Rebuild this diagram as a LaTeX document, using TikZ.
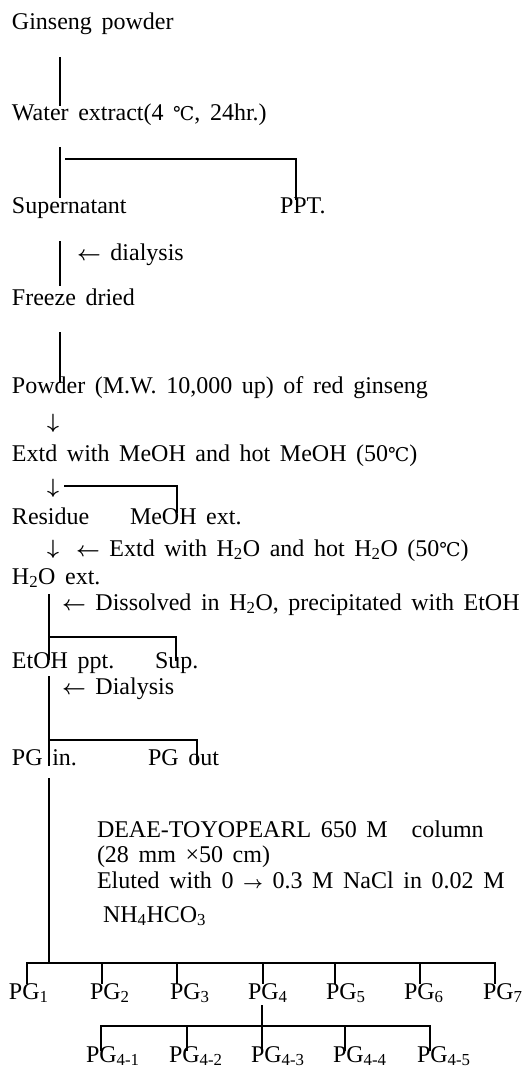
\documentclass[tikz,border=0pt]{standalone}
\usepackage{fontspec}
\setmainfont[WordSpace=1.6]{Liberation Serif}
\newfontfamily\symfont{DejaVu Serif}
\newcommand{\celsius}{{\symfont\fontsize{19}{22}\selectfont ℃}}
\newcommand{\larr}{{\fontsize{21}{22}\selectfont\boldmath$\leftarrow$}}
\newcommand{\rarr}{{\fontsize{19}{22}\selectfont\boldmath$\rightarrow$}}
\newcommand{\darr}{{\boldmath$\downarrow$}}
\tikzset{
  txt/.style={anchor=base west, inner sep=0pt, outer sep=0pt, font=\fontsize{24}{28}\selectfont},
  glyph/.style={anchor=center, inner sep=0pt, outer sep=0pt, font=\fontsize{22}{24}\selectfont},
  link/.style={line width=1.1pt, line cap=rect},
}
\begin{document}
\begin{tikzpicture}[x=1pt,y=-1pt]
\useasboundingbox (0,0) rectangle (527,1069);
\fill[white] (0,0) rectangle (527,1069);

% ---- text nodes ----
\node[txt] (gp)   at (12,29)  {Ginseng powder};
\node[txt] (we)   at (12,120) {Water extract(4 \celsius, 24hr.)};
\node[txt] (sup)  at (12,213) {Supernatant};
\node[txt] (ppt)  at (280,213) {PPT.};
\node[txt] (dia)  at (77,260) {\larr{} dialysis};
\node[txt] (fd)   at (12,305) {Freeze dried};
\node[txt] (pow)  at (12,393) {Powder (M.W. 10,000 up) of red ginseng};
\node[glyph] (ar1) at (53,423) {\darr};
\node[txt] (ext)  at (12,461) {Extd with MeOH and hot MeOH (50\celsius)};
\node[glyph] (ar2) at (53,488) {\darr};
\node[txt] (res)  at (12,524) {Residue};
\node[txt] (meo)  at (130,524) {MeOH ext.};
\node[glyph] (ar3) at (53,549) {\darr};
\node[txt] (hw)   at (76,556) {\larr{} Extd with H\textsubscript{2}O and hot H\textsubscript{2}O (50\celsius)};
\node[txt] (h2o)  at (12,584) {H\textsubscript{2}O ext.};
\node[txt] (dis)  at (62,610) {\larr{} Dissolved in H\textsubscript{2}O, precipitated with EtOH};
\node[txt] (etp)  at (12,668) {EtOH ppt.};
\node[txt] (sp)   at (155,668) {Sup.};
\node[txt] (dl)   at (62,694) {\larr{} Dialysis};
\node[txt] (pgin) at (12,765) {PG in.};
\node[txt] (pgout) at (148,765) {PG out};
\node[txt] (deae) at (97,837) {DEAE-TOYOPEARL 650 M\hspace{0.6em} column};
\node[txt] (size) at (97,862) {(28 mm ×50 cm)};
\node[txt] (elu)  at (97,888) {Eluted with 0 \rarr{} 0.3 M NaCl in 0.02 M};
\node[txt] (nh)   at (103,922) {NH\textsubscript{4}HCO\textsubscript{3}};

\foreach \i/\x in {1/9,2/90,3/170,4/248,5/326,6/404,7/483}
  \node[txt] (pg\i) at (\x,999) {PG\textsubscript{\i}};
\foreach \i/\x in {1/86,2/169,3/251,4/333,5/417}
  \node[txt] (pgf\i) at (\x,1062) {PG\textsubscript{4-\i}};

% ---- connector points ----
\coordinate (c1a) at (60,58);   \coordinate (c1b) at (60,105);
\coordinate (c2a) at (60,148);  \coordinate (c2b) at (60,197);
\coordinate (c3a) at (66,159);  \coordinate (c3b) at (296,159); \coordinate (c3c) at (296,199);
\coordinate (c4a) at (60,242);  \coordinate (c4b) at (60,285);
\coordinate (c5a) at (60,333);  \coordinate (c5b) at (60,382);
\coordinate (c6a) at (65,486);  \coordinate (c6b) at (177,486); \coordinate (c6c) at (177,512);
\coordinate (c7a) at (49,595);  \coordinate (c7b) at (49,659);
\coordinate (c8a) at (49,637);  \coordinate (c8b) at (176,637); \coordinate (c8c) at (176,660);
\coordinate (c9a) at (49,677);  \coordinate (c9b) at (49,765);
\coordinate (c10a) at (49,740); \coordinate (c10b) at (197,740); \coordinate (c10c) at (197,763);
\coordinate (c11a) at (49,779); \coordinate (c11b) at (49,963);
\coordinate (hl) at (27,963);   \coordinate (hr) at (495,963);
\coordinate (s4a) at (262,1006); \coordinate (s4b) at (262,1026);
\coordinate (sl) at (101,1026); \coordinate (sr) at (430,1026);

% ---- connectors ----
\draw[link] (c1a) -- (c1b);
\draw[link] (c2a) -- (c2b);
\draw[link] (c3a) -- (c3b) -- (c3c);
\draw[link] (c4a) -- (c4b);
\draw[link] (c5a) -- (c5b);
\draw[link] (c6a) -- (c6b) -- (c6c);
\draw[link] (c7a) -- (c7b);
\draw[link] (c8a) -- (c8b) -- (c8c);
\draw[link] (c9a) -- (c9b);
\draw[link] (c10a) -- (c10b) -- (c10c);
\draw[link] (c11a) -- (c11b);
\draw[link] (hl) -- (hr);
\foreach \x in {27,102,177,263,335,420,495}
  \draw[link] (hl -| \x,0) -- ++(0,20);
\draw[link] (s4a) -- (s4b);
\draw[link] (sl) -- (sr);
\foreach \x in {101,187,262,345,430}
  \draw[link] (sl -| \x,0) -- ++(0,24);
\end{tikzpicture}
\end{document}
